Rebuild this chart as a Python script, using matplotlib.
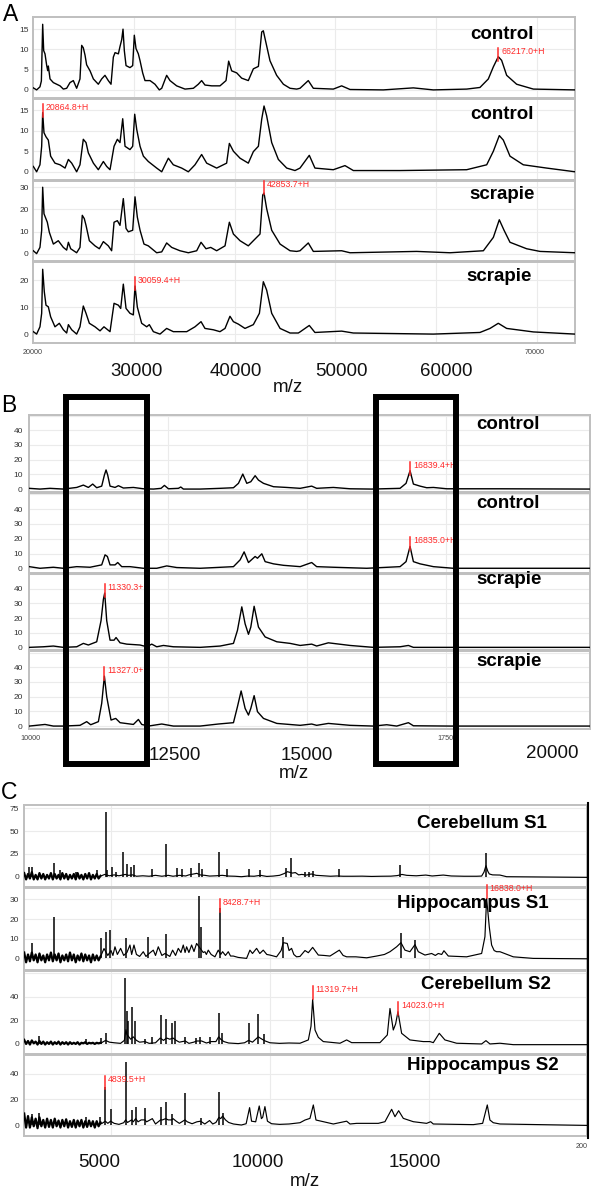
import numpy as np
import matplotlib
matplotlib.use("Agg")
import matplotlib.pyplot as plt
from matplotlib.lines import Line2D
from matplotlib.patches import Rectangle

plt.rcParams['font.family'] = ['Liberation Sans', 'DejaVu Sans']

# ---------------- DATA ----------------
# Panel A (m/z, intensity)
a_ctrl1 = [(20030,0.5),(20360,0.0),(20690,0.75),(20830,2.2),(20960,16.2),(21060,9.7),(21190,8.9),(21360,6.0),(21460,4.75),(21520,5.9),(21690,2.7),(22020,1.8),(22350,1.4),(22680,1.0),(23010,0.2),(23340,0.4),(23670,1.8),(24000,2.3),(24330,0.4),(24660,2.7),(24830,11.0),(24990,10.4),(25160,8.6),(25320,6.2),(25660,4.7),(25990,2.7),(26480,1.4),(26810,2.7),(27140,3.6),(27470,2.3),(27740,1.4),(27970,8.1),(28140,9.2),(28470,8.9),(28630,10.7),(28800,12.4),(28930,15.0),(29060,9.7),(29230,6.0),(29620,5.5),(29890,6.0),(30050,13.5),(30220,10.2),(30450,8.9),(30620,7.2),(30880,4.2),(31110,2.3),(31610,2.3),(32100,1.4),(32530,0.0),(32770,0.4),(33260,3.6),(33590,2.3),(34250,1.0),(35080,0.2),(35910,0.4),(36400,1.4),(36730,2.3),(37060,1.2),(37730,1.0),(38550,1.0),(39150,2.3),(39410,7.1),(39710,4.7),(40210,4.2),(40700,2.9),(41360,2.3),(41860,5.2),(42360,5.8),(42690,14.3),(42850,14.6),(43080,12.0),(43510,7.2),(44170,3.6),(44840,1.4),(45500,0.4),(46160,0.2),(46490,0.4),(47310,2.3),(47810,0.4),(49790,0.2),(50620,1.0),(51450,0.1),(54750,0.0),(57730,0.5),(59710,0.0),(63020,0.2),(64340,0.6),(65170,2.7),(65670,5.7),(66160,8.2),(66490,7.3),(66990,3.6),(67980,1.4),(69640,0.2),(73770,0.0)]
a_ctrl2 = [(20030,1.3),(20360,0.0),(20690,1.7),(20860,6.2),(20960,14.4),(21090,9.5),(21290,8.5),(21520,7.7),(21750,3.8),(22180,2.1),(22680,1.7),(23180,0.9),(23510,3.0),(23840,2.1),(24330,0.0),(24660,1.7),(24990,7.9),(25260,7.1),(25490,4.6),(25990,2.1),(26480,0.5),(26980,2.5),(27310,1.3),(27640,0.5),(28040,6.2),(28370,7.9),(28630,7.1),(28900,12.9),(29130,6.2),(29620,5.4),(29890,6.2),(30090,14.0),(30290,10.3),(30620,6.2),(30950,3.8),(31440,2.5),(32270,0.9),(32770,0.0),(33430,3.3),(33920,1.7),(34750,0.9),(35410,0.0),(36070,1.7),(36730,4.2),(37230,2.1),(38220,0.9),(39210,2.1),(39480,6.9),(39880,5.0),(40540,3.3),(41360,2.1),(41860,4.9),(42360,6.2),(42690,12.8),(42920,16.0),(43180,13.6),(43680,7.1),(44340,3.0),(45170,0.9),(45990,0.3),(46490,0.9),(47410,4.0),(47970,0.9),(49790,0.5),(50950,1.5),(51780,0.3),(56410,0.3),(63020,0.5),(65010,1.7),(65670,5.0),(66260,8.8),(66660,7.7),(67320,3.8),(68640,1.7),(70960,0.9),(73770,0.0)]
a_scr1 = [(20030,1.4),(20360,0.1),(20690,2.9),(20860,10.5),(20960,29.9),(21090,18.0),(21220,16.5),(21420,14.2),(21620,9.7),(22020,4.4),(22510,5.9),(23010,2.9),(23340,1.7),(23510,5.2),(23740,2.3),(24330,0.5),(24660,2.9),(24890,17.3),(25090,15.8),(25260,12.8),(25590,5.9),(26150,3.6),(26580,2.3),(26980,5.5),(27470,3.6),(27800,1.4),(28040,14.2),(28370,14.9),(28630,12.8),(28960,24.8),(29230,11.4),(29460,9.9),(29890,10.6),(30120,25.6),(30350,16.5),(30620,10.6),(31010,4.4),(31440,3.6),(32270,0.5),(32770,0.9),(33260,4.9),(33760,2.9),(34580,1.4),(35410,0.5),(36240,1.4),(36670,5.2),(37160,2.3),(37630,2.9),(38220,1.4),(39050,3.6),(39480,14.2),(39880,8.9),(40540,5.9),(41360,3.6),(41860,5.9),(42520,8.9),(42790,26.4),(42920,27.3),(43180,20.3),(43680,10.6),(44510,4.4),(45500,1.4),(46160,1.1),(46490,1.4),(47310,4.9),(47810,1.1),(50620,1.4),(51450,0.5),(58060,1.1),(61370,0.5),(64680,1.4),(65670,7.4),(66260,15.3),(66730,10.6),(67320,5.2),(68970,2.3),(70300,1.1),(73770,0.5)]
a_scr2 = [(20030,0.9),(20360,0.0),(20690,2.7),(20860,7.7),(20960,24.0),(21120,15.7),(21290,10.7),(21520,10.1),(21750,6.4),(22180,2.7),(22610,4.0),(23010,1.6),(23340,0.4),(23510,3.5),(23840,1.6),(24330,0.0),(24660,2.7),(24990,10.4),(25260,7.7),(25590,4.0),(26150,2.7),(26650,1.2),(27040,2.7),(27640,0.9),(28040,11.4),(28470,10.7),(28700,9.5),(28960,18.5),(29230,9.5),(29620,7.7),(29950,7.1),(30120,17.8),(30350,10.0),(30780,4.0),(31280,2.7),(31540,3.5),(31940,0.9),(32600,0.0),(33260,2.1),(33920,0.9),(35250,0.9),(36070,2.7),(36670,4.6),(37060,2.1),(37890,1.6),(38550,0.9),(39050,2.1),(39540,6.6),(39880,4.6),(40370,3.7),(41030,2.1),(41860,3.5),(42460,7.7),(42850,19.4),(43180,16.3),(43680,7.7),(44510,2.1),(45500,0.4),(46320,0.4),(46490,0.8),(47410,3.2),(47970,0.6),(50620,1.1),(51780,0.4),(59710,0.0),(64340,0.6),(65340,2.1),(66160,4.0),(66990,2.1),(69640,0.8),(73770,0.0)]
a_labels = ['control', 'control', 'scrapie', 'scrapie']
a_annot = [(0, 66163, '66217.0+H', 8.2), (1, 20959, '20864.8+H', 14.4),
           (2, 42917, '42853.7+H', 28.5), (3, 30119, '30059.4+H', 17.8)]
a_yticks = [[0, 5, 10, 15], [0, 5, 10, 15], [0, 10, 20, 30], [0, 10, 20]]
a_xgrid = [30000, 40000, 50000, 60000, 70000]
a_big_ticks = ['30000', '40000', '50000', '60000']

# Panel B
b_ctrl1 = [(10006,0.5),(10198,0.0),(10378,0.5),(10618,0.0),(10858,1.1),(10978,2.7),(11068,1.1),(11146,3.4),(11218,0.9),(11308,2.0),(11356,9.5),(11386,13.0),(11416,9.5),(11458,2.0),(11548,1.1),(11608,2.3),(11698,0.7),(11878,1.1),(12058,0.2),(12238,0.0),(12376,0.5),(12436,2.5),(12508,0.2),(12688,0.5),(12730,1.4),(12778,0.0),(13078,0.0),(13438,0.5),(13678,0.9),(13768,3.9),(13846,10.2),(13918,3.9),(13990,5.0),(14068,9.1),(14128,6.1),(14218,3.9),(14398,1.6),(14638,1.1),(14878,0.5),(15085,2.0),(15175,0.5),(15475,1.1),(15775,0.2),(16165,0.0),(16675,0.5),(16783,3.9),(16855,12.5),(16915,3.4),(17035,2.0),(17155,0.9),(17275,1.1),(17515,0.2),(18475,0.2),(20095,0.0)]
b_ctrl2 = [(10006,1.1),(10198,0.0),(10438,0.7),(10618,0.0),(10858,1.1),(11098,0.7),(11308,2.3),(11368,9.1),(11410,8.0),(11458,2.3),(11548,2.3),(11596,3.9),(11668,1.1),(11818,1.1),(12058,0.0),(12298,0.0),(12478,1.6),(12658,0.5),(13078,0.0),(13678,1.1),(13798,5.7),(13870,11.1),(13948,3.9),(14068,8.0),(14110,6.8),(14188,9.8),(14248,4.5),(14398,3.0),(14578,2.0),(14878,1.1),(15085,3.9),(15175,1.1),(15475,0.7),(16075,0.0),(16675,1.1),(16783,4.5),(16855,14.8),(16915,4.5),(17035,3.0),(17275,1.1),(17635,0.0),(20095,0.0)]
b_scr1 = [(10006,0.0),(10258,0.4),(10438,0.9),(10618,0.0),(10858,0.4),(10978,2.7),(11068,1.6),(11218,3.8),(11296,18.2),(11338,32.7),(11362,37.0),(11398,18.2),(11458,4.9),(11530,4.9),(11566,6.7),(11638,3.1),(11758,2.2),(11998,1.6),(12118,0.4),(12208,2.2),(12298,0.4),(12418,1.3),(12598,0.4),(13078,0.0),(13438,0.9),(13678,2.7),(13750,11.6),(13828,27.6),(13888,16.0),(13948,8.9),(13990,13.8),(14050,28.0),(14128,13.8),(14248,7.1),(14458,3.8),(14698,2.7),(14878,1.3),(15085,2.2),(15175,0.9),(15385,3.1),(15775,1.3),(16195,0.0),(16675,0.4),(16825,1.3),(16915,0.0),(17575,0.0),(20095,0.0)]
b_scr2 = [(10006,0.0),(10288,1.1),(10438,0.0),(10618,0.0),(10918,0.5),(11038,3.0),(11110,0.9),(11248,3.0),(11308,15.5),(11356,34.0),(11398,20.0),(11476,4.1),(11560,5.2),(11638,2.3),(11878,1.1),(11968,4.5),(12028,1.1),(12148,0.0),(12388,1.4),(12598,0.0),(13078,0.0),(13408,1.4),(13678,2.3),(13750,13.2),(13816,23.9),(13888,12.0),(13948,7.5),(13990,12.0),(14050,20.7),(14110,9.8),(14218,5.2),(14458,1.8),(14878,0.5),(15085,1.4),(15175,0.5),(15385,1.8),(15775,0.5),(16195,0.0),(16435,0.9),(16615,0.0),(16825,2.3),(16915,0.2),(17575,0.0),(20095,0.0)]
b_labels = ['control', 'control', 'scrapie', 'scrapie']
b_annot = [(0, 16855, '16839.4+H', 12.5), (1, 16855, '16835.0+H', 14.8),
           (2, 11362, '11330.3+H', 37.0), (3, 11356, '11327.0+H', 34.0)]
b_yticks = [0, 10, 20, 30, 40, 50]
b_xgrid = [12500, 15000, 17500]
b_big_ticks = ['12500', '15000', '20000']

# Panel C: shared noisy low-mass region + tail + sharp spikes
c_noise_mz = [2270, 2330, 2390, 2450, 2510, 2570, 2630, 2690, 2750, 2810, 2870, 2930, 2990, 3050,
              3110, 3170, 3230, 3290, 3350, 3410, 3470, 3530, 3590, 3650, 3710, 3770, 3830, 3890,
              3950, 4010, 4070, 4130, 4190, 4250, 4310, 4370, 4430, 4490, 4550, 4610, 4670]
c1_noise = [4, -3, 3, -2, 5, -3, 2, -3, 4, -2, 3, -3, 2, -2, 4, -3, 3, -2, 2, -3, 4, -2, 3, -3, 2, -2, 3, -3, 4, -2, 2, -3, 3, -2, 4, -3, 2, -2, 3, -2, 1]
c2_noise = [3, -2, 2, -1.5, 3, -1, 2, -2, 2.5, -1, 1.5, -2, 2, -1, 3, -1.5, 2, -1, 2.5, -2, 1.5, -1, 2, -1.5, 3, -1, 2, -2, 1.5, -1, 2.5, -1.5, 2, -1, 1.5, -2, 2, -1, 1.5, -1, 1]
c3_noise = [3.5, 0, 2.5, -0.5, 3, 0.5, 2, -0.5, 2.5, 0, 2, -0.5, 1.5, 0, 2, -0.5, 1.5, 0, 2, -0.5, 1.5, 0, 1.5, -0.5, 1.5, 0, 1, 0, 1.5, -0.5, 1, 0.5, 1.5, 0, 1, 0.5, 1, 0, 1, 0.5, 1]
c4_noise = [9, -2, 7, -2, 6, -1, 5, -2.5, 6, -1, 4, -2, 5, -1.5, 4, -2, 5, -1, 3.5, -2, 4, -1, 4.5, -2, 3, -1.5, 4, -2, 3.5, -1, 4, -2, 3, -1.5, 3.5, -1, 3, -2, 3, -1, 2]
c1_tail = [(4700,1),(4800,2.5),(4950,1),(5100,2),(5250,1),(5450,2.5),(5550,1.5),(5680,2),(5800,0.5),(6000,1),(6200,0.5),(6400,1.5),(6600,0.5),(6800,1.5),(6950,0.5),(7150,1.5),(7350,0.8),(7450,2),(7600,3),(7700,3.7),(7800,2),(7950,1.5),(8100,0.7),(8300,1),(8500,1.5),(8700,0.7),(8900,0.5),(9100,0),(9300,0.7),(9500,0.5),(9700,1.5),(9900,0.3),(10100,0.7),(10300,1.5),(10450,3.5),(10550,5.5),(10700,4),(10800,4.5),(10900,2),(11000,2.5),(11150,1.8),(11300,3),(11450,1.5),(11600,1.2),(11900,0.5),(12100,0.8),(12300,0.5),(12600,0.5),(12900,0.6),(13200,0.3),(13500,0.5),(13800,0.6),(14000,1.2),(14150,2.5),(14300,1.5),(14600,1),(14900,1.8),(15100,0.8),(15450,1.8),(15700,0.8),(16100,0.5),(16500,0.5),(16656,0.7),(16730,5),(16792,12),(16850,6),(16897,3),(17000,2),(17232,1.8),(17442,0),(18500,-0.3),(19957,-0.7)]
c2_tail = [(4700,2),(4780,5),(4900,1.5),(5000,4),(5060,1.5),(5125,5.9),(5200,2),(5303,5.1),(5400,1.5),(5500,3),(5596,6.8),(5650,2),(5722,6.8),(5800,2),(5900,1),(6015,3.4),(6100,1),(6200,2.5),(6330,4.2),(6400,1.5),(6487,5.9),(6600,1.5),(6700,2.5),(6850,1),(6938,4.2),(7030,1.5),(7116,5.1),(7200,3),(7273,6.8),(7330,3),(7378,5.9),(7450,3),(7535,6.8),(7610,3.5),(7692,7.6),(7900,3),(7954,3.4),(8000,2),(8059,4.2),(8150,2),(8269,0.8),(8373,4.2),(8450,2),(8510,3.4),(8600,1.5),(8688,3.4),(8760,1.2),(8845,1.2),(9000,0.5),(9264,0),(9369,4.2),(9450,2.5),(9579,5.1),(9680,2.5),(9788,4.2),(9900,2),(9998,1.7),(10207,0.8),(10350,4),(10417,8),(10543,7.6),(10600,4),(10679,5.1),(10750,2),(10836,0.8),(10944,1),(11101,4),(11206,2.9),(11342,5.6),(11520,1.7),(11700,1.5),(11887,1.2),(12181,4.2),(12300,1.5),(12411,0.8),(12700,0.8),(13040,0.3),(13354,1.2),(13600,2),(13774,3.4),(13983,5.9),(14119,8),(14245,4.2),(14402,3.4),(14560,7),(14664,3.4),(14874,1.7),(15084,2.5),(15200,1.5),(15293,2.5),(15400,2),(15471,3.9),(15608,1.2),(16184,0.8),(16656,2.5),(16760,11),(16813,30.5),(16897,16),(16970,6.8),(17050,4),(17127,3.4),(17232,3.4),(17651,0.8),(18280,0),(19957,-0.2)]
c3_tail = [(4700,1),(4831,3),(4950,1.5),(5100,1),(5300,0.5),(5420,3),(5470,12),(5500,8),(5560,6),(5620,4),(5700,6),(5800,3),(5900,1.5),(6068,2),(6200,0.5),(6400,1),(6550,5),(6650,3),(6750,5),(6850,4),(6950,5),(7050,3),(7150,1.5),(7336,2.5),(7450,0.5),(7600,1.5),(7700,2.5),(7850,2.5),(8000,0.8),(8150,2),(8300,2),(8384,6),(8450,4),(8550,2),(8700,0.8),(9000,0.3),(9200,1),(9327,3),(9450,1.5),(9550,4),(9631,6),(9750,4),(9850,2.5),(10000,1),(10300,0.5),(10600,0.8),(10944,0.6),(11206,3.4),(11290,15),(11342,37.7),(11416,11.8),(11520,5.6),(11677,2),(12202,0.6),(12411,3.4),(12568,1.1),(13459,1.1),(13690,7.6),(13774,30),(13878,11.8),(13952,17),(14025,27.3),(14140,9),(14400,3.4),(14820,2),(15031,2),(15136,1.1),(15324,9),(15502,3.4),(15870,0.6),(16656,0),(16792,2.8),(16917,0),(17232,0.6),(17651,-0.6),(19957,-0.6)]
c4_tail = [(4700,1),(4821,3),(4900,1.3),(4988,3),(5100,1.3),(5250,0.5),(5400,1.8),(5460,4),(5520,2),(5649,4),(5700,2.5),(5775,5),(5850,2.5),(5950,4),(6068,4),(6120,2.5),(6300,5),(6400,0.8),(6560,4),(6620,4),(6718,5),(6800,4),(6906,4),(6950,5),(7050,3),(7150,1.3),(7325,4),(7400,2.5),(7550,1),(7700,2.5),(7818,3),(7950,0.8),(8100,3.5),(8200,0.8),(8300,2),(8394,6),(8450,5),(8510,7),(8600,4),(8700,2),(8850,0.8),(9100,0),(9250,1),(9359,13.6),(9420,3),(9550,2.5),(9662,14.9),(9730,5),(9770,6),(9841,14.4),(9920,3),(10050,1),(10300,0.5),(10600,0.8),(10944,1.8),(11101,3.9),(11258,5.2),(11363,15.7),(11447,3.9),(11678,2.6),(11992,0.8),(12411,3),(12516,0.8),(12726,1.3),(13406,1.3),(13616,2.6),(13826,12.3),(13931,6.5),(14046,11.2),(14193,5.2),(14507,2.6),(14926,1.3),(15052,2.6),(15136,0.8),(16394,0.3),(16688,1.3),(16834,15.7),(16917,3.9),(17022,1.8),(17232,0.8),(19957,-0.3)]
c1_spikes = [(2431,11),(2505,11),(3207,15),(3395,7.3),(3898,5.5),(4548,7.3),(4831,71),(4884,7.3),(5020,11),(5146,5.5),(5366,27.5),(5512,13.9),(5617,10.3),(5722,12.8),(6277,8),(6728,35.9),(7063,9.2),(7221,8),(7504,9.2),(7755,15),(7849,8),(8405,27.5),(8635,8),(9337,8.4),(9683,7.3),(10501,9.2),(10648,21),(11101,5.5),(11237,5.5),(11363,6.2),(12181,8),(14088,12.8),(16792,25.6)]
c2_spikes = [(2505,7.6),(3217,21),(4685,10.2),(4842,13.6),(4967,14.4),(5460,10.2),(6173,11),(6739,12.4),(7766,31.7),(7828,16),(8426,25.4),(10417,11),(14119,12.7),(14560,9.3)]
c3_spikes = [(2735,6.5),(4213,4),(4674,4.8),(4831,9),(5449,56),(5491,28),(5523,19),(5670,31),(5753,19),(6068,4),(6277,5.6),(6571,24.5),(6718,21),(6906,18),(7011,19.7),(7336,6),(7671,4.8),(7808,5.6),(8111,5.6),(8384,26),(8499,9),(9327,17.5),(9631,25),(9809,8.5)]
c4_spikes = [(2505,9),(2735,9.7),(4213,6.5),(4653,6),(4821,30),(4988,12.3),(5460,49.6),(5649,11.7),(5775,13.8),(6068,13),(6560,14.4),(6718,18.3),(6906,9),(7325,24.8),(7818,5.2),(8394,26),(8510,9.7)]
c_labels = ['Cerebellum S1', 'Hippocampus S1', 'Cerebellum S2', 'Hippocampus S2']
c_annot = [(1, 8426, '8428.7+H', 25.4), (1, 16813, '16838.0+H', 32.5),
           (2, 11342, '11319.7+H', 41.0), (2, 14025, '14023.0+H', 28.0),
           (3, 4821, '4839.5+H', 31.5)]
c_yticks = [[0, 25, 50, 75], [0, 10, 20, 30], [0, 20, 40, 60], [0, 20, 40]]
c_xgrid = [5000, 10000, 15000]
c_big_ticks = ['5000', '10000', '15000']

# ---------------- LAYOUT / STYLE ----------------
W, H = 600, 1197
fig = plt.figure(figsize=(6.0, 11.97), dpi=100)

def fx(x):
    return x / W

def fy(y):
    return 1 - y / H

SPINE = '#bfbfbf'
GRID = '#ebebeb'
RED = '#ff2a2a'


def make_ax(left, right, top, bottom, xlim, ylim, yticks, xgrid, pad, ylabels=None):
    ax = fig.add_axes([fx(left), fy(bottom), (right - left) / W, (bottom - top) / H])
    ax.set_xlim(*xlim)
    ax.set_ylim(*ylim)
    ax.set_yticks(yticks)
    if ylabels is not None:
        ax.set_yticklabels(ylabels)
    ax.set_xticks(xgrid)
    ax.tick_params(axis='both', length=0, labelsize=6, labelcolor='#333333', pad=pad)
    ax.tick_params(axis='x', labelbottom=False)
    ax.grid(True, color=GRID, lw=0.8)
    ax.set_axisbelow(True)
    for s in ax.spines.values():
        s.set_color(SPINE)
        s.set_linewidth(1.4)
    return ax


def annotate(ax, mz, text, ypk, rows_px):
    y0, y1 = ax.get_ylim()
    upp = (y1 - y0) / rows_px
    ax.plot([mz, mz], [ypk - 4 * upp, ypk + 9 * upp], color=RED, lw=1.1, zorder=4, clip_on=False)
    ax.annotate(text, xy=(mz, ypk), xytext=(3, 5.5), textcoords='offset pixels',
                ha='left', va='center', color=RED, fontsize=6.3, annotation_clip=False, zorder=4)


def pairs(p):
    arr = np.array(p, dtype=float)
    return arr[:, 0], arr[:, 1]

# ---------- Panel A ----------
a_rows = [(17, 98), (99, 180), (181, 261), (262, 343)]
a_ylims = [(-2, 18), (-2, 17.7), (-3.2, 32.7), (-3.3, 26.7)]
a_spec = [a_ctrl1, a_ctrl2, a_scr1, a_scr2]
a_lab_pos = [(501.7, 39.3), (501.7, 119.3), (501.7, 199.3), (499, 280.7)]
a_axes = []
for i in range(4):
    t, b = a_rows[i]
    ax = make_ax(33, 575, t, b, (20000, 73770), a_ylims[i], a_yticks[i], a_xgrid, 3)
    x, y = pairs(a_spec[i])
    ax.plot(x, y, color='black', lw=1.0, zorder=3)
    a_axes.append(ax)
    fig.text(fx(a_lab_pos[i][0]), fy(a_lab_pos[i][1]), a_labels[i], ha='center', va='baseline',
             fontsize=13.5, fontweight='bold')
for idx, mz, txt, pk in a_annot:
    t, b = a_rows[idx]
    annotate(a_axes[idx], mz, txt, pk, b - t)

# ---------- Panel B ----------
b_rows = [(415, 492), (493, 573), (574, 650), (651, 729)]
b_ylims = [(-2, 50.4), (-3.2, 51), (-1.8, 48.9), (-2, 51.1)]
b_spec = [b_ctrl1, b_ctrl2, b_scr1, b_scr2]
b_lab_pos = [(508, 429.3), (508, 508.3), (509, 584), (509, 666)]
b_axes = []
for i in range(4):
    t, b = b_rows[i]
    ax = make_ax(29, 590, t, b, (10000, 20092), b_ylims[i], b_yticks, b_xgrid, 4.5,
                 ylabels=['0', '10', '20', '30', '40', ''])
    x, y = pairs(b_spec[i])
    ax.plot(x, y, color='black', lw=1.0, zorder=3)
    b_axes.append(ax)
    fig.text(fx(b_lab_pos[i][0]), fy(b_lab_pos[i][1]), b_labels[i], ha='center', va='baseline',
             fontsize=13.5, fontweight='bold')
for idx, mz, txt, pk in b_annot:
    t, b = b_rows[idx]
    annotate(b_axes[idx], mz, txt, pk, b - t)

# ---------- Panel C ----------
c_rows = [(805, 887), (888, 970), (971, 1054), (1055, 1136)]
c_ylims = [(-11.3, 78.7), (-5.9, 35.8), (-8.5, 61.7), (-8.6, 54.8)]
c_noise = [c1_noise, c2_noise, c3_noise, c4_noise]
c_tails = [c1_tail, c2_tail, c3_tail, c4_tail]
c_spikes = [c1_spikes, c2_spikes, c3_spikes, c4_spikes]
c_lab_pos = [(482, 828.3), (473, 908.3), (485.5, 989.3), (483, 1070)]
c_axes = []
for i in range(4):
    t, b = c_rows[i]
    labs = [str(v) for v in c_yticks[i]]
    if i == 2:
        labs[-1] = ''
    ax = make_ax(24, 587, t, b, (2264, 19970), c_ylims[i], c_yticks[i], c_xgrid, 3.6, ylabels=labs)
    nx = np.array(c_noise_mz, float)
    ny = np.array(c_noise[i], float)
    ax.plot(nx, ny, color='black', lw=1.6, zorder=3)
    tx, ty = pairs(c_tails[i])
    ax.plot(np.concatenate([nx[-1:], tx]), np.concatenate([ny[-1:], ty]),
            color='black', lw=0.85, zorder=3)
    sx, sy = pairs(c_spikes[i])
    ax.vlines(sx, 0, sy, color='black', lw=1.1, zorder=3)
    c_axes.append(ax)
    fig.text(fx(c_lab_pos[i][0]), fy(c_lab_pos[i][1]), c_labels[i], ha='center', va='baseline',
             fontsize=13.5, fontweight='bold')
for idx, mz, txt, pk in c_annot:
    t, b = c_rows[idx]
    annotate(c_axes[idx], mz, txt, pk, b - t)

# dark right border of panel C
fig.add_artist(Line2D([fx(587.5), fx(587.5)], [fy(803), fy(1138)], color='black', lw=1.5))

# ---------- overlay texts ----------
big = dict(fontsize=13.5, ha='center', va='baseline', color='#111111')
for txt, x in zip(a_big_ticks, [137, 236, 341, 446]):
    fig.text(fx(x), fy(376), txt, **big)
fig.text(fx(288), fy(392), 'm/z', **big)
for txt, x, y in zip(b_big_ticks, [175, 307, 552], [760, 760, 758]):
    fig.text(fx(x), fy(y), txt, **big)
fig.text(fx(294), fy(778), 'm/z', **big)
for txt, x in zip(c_big_ticks, [99.5, 257.5, 415]):
    fig.text(fx(x), fy(1167), txt, **big)
fig.text(fx(305), fy(1186), 'm/z', **big)

small = dict(fontsize=5.2, ha='center', va='center', color='#444444')
fig.text(fx(33), fy(352), '20000', **small)
fig.text(fx(535), fy(352), '70000', **small)
fig.text(fx(30), fy(738), '10000', **small)
fig.text(fx(447), fy(738), '17500', **small)
fig.text(fx(576), fy(1146), '200', fontsize=5.2, ha='left', va='center', color='#444444')

# panel letters
fig.text(fx(3), fy(21), 'A', fontsize=16.5, ha='left', va='baseline')
fig.text(fx(1), fy(411.5), 'B', fontsize=16.5, ha='left', va='baseline')
fig.text(fx(1), fy(799), 'C', fontsize=16.5, ha='left', va='baseline')

# black boxes in panel B
for (x0, x1) in [(66, 147), (376, 456)]:
    fig.add_artist(Rectangle((fx(x0), fy(764)), (x1 - x0) / W, (764 - 397) / H,
                             transform=fig.transFigure, fill=False, ec='black', lw=4.3, zorder=10))

fig.savefig('out.png', dpi=100)
